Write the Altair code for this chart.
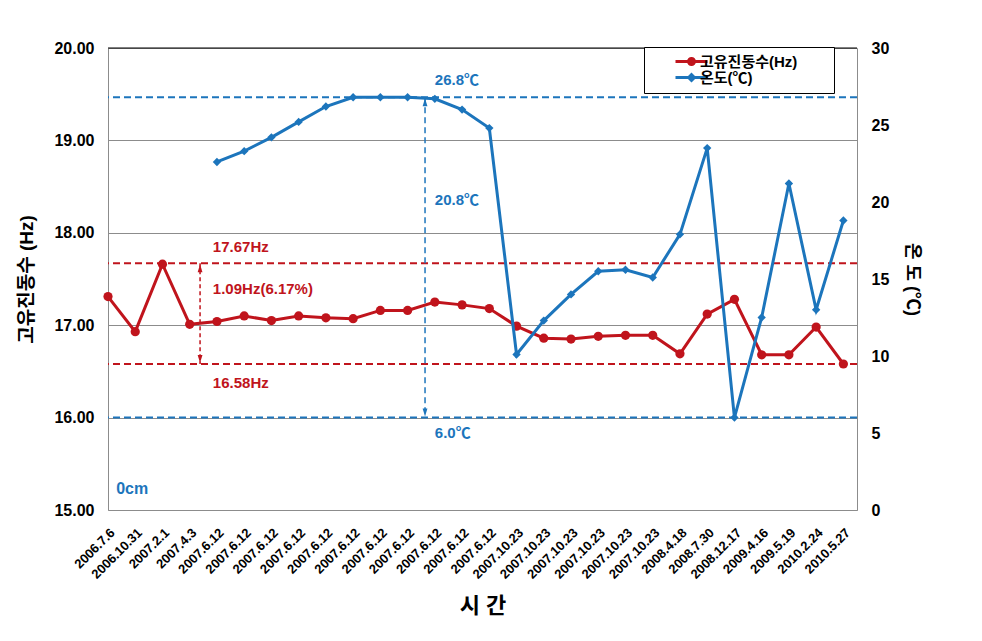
import json
import altair as alt
import pandas as pd

# ---------------- data ----------------
dates = ["2006.7.6", "2006.10.31", "2007.2.1", "2007.4.3",
         "2007.6.12", "2007.6.12", "2007.6.12", "2007.6.12", "2007.6.12", "2007.6.12",
         "2007.6.12", "2007.6.12", "2007.6.12", "2007.6.12", "2007.6.12",
         "2007.10.23", "2007.10.23", "2007.10.23", "2007.10.23", "2007.10.23", "2007.10.23",
         "2008.4.18", "2008.7.30", "2008.12.17", "2009.4.16", "2009.5.19", "2010.2.24", "2010.5.27"]
freq_hz = [17.31, 16.93, 17.66, 17.01,
           17.04, 17.10, 17.05, 17.10, 17.08, 17.07, 17.16, 17.16, 17.25, 17.22, 17.18,
           16.99, 16.86, 16.85, 16.88, 16.89, 16.89,
           16.69, 17.12, 17.28, 16.68, 16.68, 16.98, 16.58]
temp_c = [None, None, None, None,
          22.6, 23.3, 24.2, 25.2, 26.2, 26.8, 26.8, 26.8, 26.7, 26.0, 24.8,
          10.1, 12.3, 14.0, 15.5, 15.6, 15.1,
          17.9, 23.5, 6.0, 12.5, 21.2, 13.0, 18.8]

series_names = ["고유진동수(Hz)", "온도(℃)"]
red_levels = [17.67, 16.58]
blue_levels = [26.8, 6.0]
red_notes = ["17.67Hz", "1.09Hz(6.17%)", "16.58Hz"]
red_note_v = [17.85, 17.39, 16.37]
red_note_i = 3.85
blue_notes = ["26.8℃", "20.8℃", "6.0℃"]
blue_note_v = [27.9, 20.1, 5.0]
blue_note_i = 12.0
red_arrow_i = 3.38
blue_arrow_i = 11.64
depth_note = ["0cm"]
depth_note_i = 0.3
depth_note_v = 15.23

left_ticks = [15, 16, 17, 18, 19, 20]
right_ticks = [0, 5, 10, 15, 20, 25, 30]

# ---------------- styles ----------------
RED = "#C0141C"
BLUE = "#1C75BC"
GRAY = "#8c8c8c"
FONT = "Liberation Sans, Noto Sans CJK KR, sans-serif"

idx = list(range(len(dates)))

red_df = pd.DataFrame({"i": idx, "v": freq_hz})
blue_df = pd.DataFrame({"i": idx, "t": temp_c}).dropna()

label_expr = json.dumps(dates) + "[datum.value]"

X = alt.X("i:Q",
          scale=alt.Scale(domain=[0, 27.5], nice=False, zero=False),
          axis=alt.Axis(values=idx, labelExpr=label_expr, labelAngle=-45,
                        labelAlign="right", labelBaseline="top", labelPadding=16,
                        labelOverlap=False, labelBound=False, labelFontSize=13,
                        labelFontWeight="bold", labelColor="black",
                        ticks=False, grid=False, domainColor=GRAY,
                        title="시 간", titleFontSize=22, titleFontWeight="bold",
                        titlePadding=14, titleColor="black"))

YL = alt.Y("v:Q",
           scale=alt.Scale(domain=[15, 20], nice=False, zero=False),
           axis=alt.Axis(values=left_ticks, format=".2f", grid=True, gridColor=GRAY,
                         gridOpacity=1, ticks=False, domainColor=GRAY, labelPadding=14,
                         labelFontSize=16, labelFontWeight="bold", labelColor="black",
                         title="고유진동수 (Hz)", titleFontSize=19, titleFontWeight="bold",
                         titlePadding=17, titleColor="black"))

YR = alt.Y("t:Q",
           scale=alt.Scale(domain=[0, 30], nice=False, zero=False),
           axis=alt.Axis(orient="right", values=right_ticks, grid=False, ticks=False,
                         domainColor=GRAY, labelPadding=14, labelFontSize=16,
                         labelFontWeight="bold", labelColor="black",
                         title="온 도 (℃)", titleFontSize=18, titleFontWeight="bold",
                         titlePadding=14, titleColor="black"))

CIRC_PATH = ("M-3.2,-0.3L3.2,-0.3L3.2,0.3L-3.2,0.3Z "
             "M-0.9,0A0.9,0.9 0 1,1 0.9,0A0.9,0.9 0 1,1 -0.9,0Z")
DIAM_PATH = ("M-3.2,-0.3L3.2,-0.3L3.2,0.3L-3.2,0.3Z "
             "M0,-1L1,0L0,1L-1,0Z")
UP_HEAD = "M0,-1L0.6,1L-0.6,1Z"
DOWN_HEAD = "M0,1L0.6,-1L-0.6,-1Z"

legend_def = alt.Legend(
    title=" ", titleOrient="right", titlePadding=30,
    orient="none", legendX=536, legendY=-1,
    fillColor="white", strokeColor="black", padding=7,
    symbolSize=100, symbolStrokeWidth=0, symbolOpacity=1,
    symbolOffset=33, labelOffset=1, labelAlign="left", rowPadding=0,
    labelFontSize=15, labelFontWeight="bold", labelColor="black", labelFont=FONT,
)
legend_df = pd.DataFrame({"i": [0, 0], "v": [15, 15], "s": series_names})
legend_layer = alt.Chart(legend_df).mark_point(filled=True, opacity=0).encode(
    x=X, y=YL,
    color=alt.Color("s:N", scale=alt.Scale(domain=series_names, range=[RED, BLUE]), legend=legend_def),
    shape=alt.Shape("s:N", scale=alt.Scale(domain=series_names, range=[CIRC_PATH, DIAM_PATH]), legend=legend_def),
)

# ---------------- left (Hz) layers ----------------
top_rule = alt.Chart(pd.DataFrame({"v": [left_ticks[-1]]})).mark_rule(
    color="black", strokeWidth=1).encode(y=YL)

red_dash = alt.Chart(pd.DataFrame({"v": red_levels})).mark_rule(
    color=RED, strokeWidth=2, strokeDash=[7, 4]).encode(y=YL)

red_shaft = alt.Chart(pd.DataFrame({"i": [red_arrow_i], "v": [red_levels[0]], "v2": [red_levels[1]]})).mark_rule(
    color=RED, strokeWidth=1.5, strokeDash=[4, 3]).encode(x=X, y=YL, y2="v2:Q")

red_head_up = alt.Chart(pd.DataFrame({"i": [red_arrow_i], "v": [red_levels[0]]})).mark_point(
    shape=UP_HEAD, size=64, filled=True, color=RED, opacity=1, yOffset=5).encode(x=X, y=YL)
red_head_dn = alt.Chart(pd.DataFrame({"i": [red_arrow_i], "v": [red_levels[1]]})).mark_point(
    shape=DOWN_HEAD, size=64, filled=True, color=RED, opacity=1, yOffset=-5).encode(x=X, y=YL)

red_line = alt.Chart(red_df).mark_line(color=RED, strokeWidth=3).encode(x=X, y=YL)
red_pts = alt.Chart(red_df).mark_point(
    shape="circle", size=85, filled=True, opacity=1, color=RED).encode(x=X, y=YL)

red_text = alt.Chart(pd.DataFrame({"i": [red_note_i] * 3, "v": red_note_v, "txt": red_notes})).mark_text(
    align="left", baseline="middle", font=FONT, fontSize=15, fontWeight="bold", color=RED
).encode(x=X, y=YL, text="txt:N")

depth_text = alt.Chart(pd.DataFrame({"i": [depth_note_i], "v": [depth_note_v], "txt": depth_note})).mark_text(
    align="left", baseline="middle", font=FONT, fontSize=16, fontWeight="bold", color=BLUE
).encode(x=X, y=YL, text="txt:N")

left = alt.layer(top_rule, red_dash, red_shaft, red_head_up, red_head_dn,
                 red_line, red_pts, red_text, depth_text, legend_layer)

# ---------------- right (°C) layers ----------------
blue_dash = alt.Chart(pd.DataFrame({"t": blue_levels})).mark_rule(
    color=BLUE, strokeWidth=2, strokeDash=[7, 4]).encode(y=YR)

blue_shaft = alt.Chart(pd.DataFrame({"i": [blue_arrow_i], "t": [blue_levels[0]], "t2": [blue_levels[1]]})).mark_rule(
    color=BLUE, strokeWidth=1.5, strokeDash=[6, 4]).encode(x=X, y=YR, y2="t2:Q")
blue_head_up = alt.Chart(pd.DataFrame({"i": [blue_arrow_i], "t": [blue_levels[0]]})).mark_point(
    shape=UP_HEAD, size=64, filled=True, color=BLUE, opacity=1, yOffset=5).encode(x=X, y=YR)
blue_head_dn = alt.Chart(pd.DataFrame({"i": [blue_arrow_i], "t": [blue_levels[1]]})).mark_point(
    shape=DOWN_HEAD, size=64, filled=True, color=BLUE, opacity=1, yOffset=-5).encode(x=X, y=YR)

blue_line = alt.Chart(blue_df).mark_line(color=BLUE, strokeWidth=3).encode(x=X, y=YR)
blue_pts = alt.Chart(blue_df).mark_point(
    shape="diamond", size=70, filled=True, opacity=1, color=BLUE).encode(x=X, y=YR)

blue_text = alt.Chart(pd.DataFrame({"i": [blue_note_i] * 3, "t": blue_note_v, "txt": blue_notes})).mark_text(
    align="left", baseline="middle", font=FONT, fontSize=15, fontWeight="bold", color=BLUE
).encode(x=X, y=YR, text="txt:N")

right = alt.layer(blue_dash, blue_shaft, blue_head_up, blue_head_dn,
                  blue_line, blue_pts, blue_text)

chart = alt.layer(left, right).resolve_scale(y="independent").properties(
    width=749, height=462,
    autosize=alt.AutoSizeParams(type="none"),
    padding={"left": 108, "top": 48, "right": 125, "bottom": 131},
    background="white",
).configure_view(stroke=None).configure_axis(
    labelFont=FONT, titleFont=FONT
)

chart.save("out.html", embed_options={"renderer": "svg", "actions": False})
